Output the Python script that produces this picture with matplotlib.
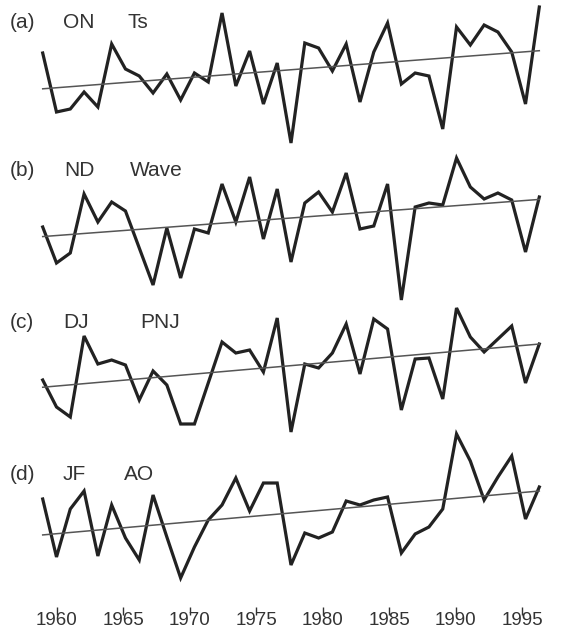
import numpy as np
import matplotlib
matplotlib.use("Agg")
import matplotlib.pyplot as plt

# years of the record
years = np.arange(1959, 1996)

# anomalies (arbitrary units)
on_ts = [2.7, -3.2, -2.9, -1.2, -2.7, 3.6, 1.1, 0.4, -1.3, 0.6, -2.0, 0.7, -0.2,
         6.7, -0.6, 2.9, -2.4, 1.7, -6.3, 3.7, 3.2, 0.9, 3.6, -2.2, 2.8, 5.7,
         -0.4, 0.7, 0.4, -4.9, 5.3, 3.5, 5.5, 4.8, 2.8, -2.4, 7.3]
nd_wave = [-0.7, -4.3, -3.3, 2.6, -0.2, 1.8, 0.9, -2.8, -6.5, -0.8, -5.8, -0.9,
           -1.3, 3.6, -0.2, 4.3, -1.9, 3.1, -4.2, 1.7, 2.8, 0.8, 4.7, -0.9, -0.6,
           3.6, -8.0, 1.3, 1.7, 1.5, 6.2, 3.3, 2.1, 2.7, 2.0, -3.2, 2.3]
dj_pnj = [-1.5, -4.2, -5.2, 2.9, 0.1, 0.5, 0.0, -3.5, -0.6, -2.0, -5.9, -5.9,
          -1.8, 2.3, 1.2, 1.5, -0.7, 4.7, -6.7, 0.1, -0.3, 1.2, 4.1, -0.9, 4.6,
          3.6, -4.5, 0.6, 0.7, -3.4, 5.7, 2.8, 1.3, 2.6, 3.9, -1.8, 2.1]
jf_ao = [1.6, -4.2, 0.6, 2.4, -4.1, 1.0, -2.3, -4.5, 2.0, -2.2, -6.3, -3.2, -0.5,
         1.0, 3.7, 0.4, 3.2, 3.2, -5.0, -1.8, -2.3, -1.7, 1.4, 1.0, 1.5, 1.8,
         -3.8, -1.9, -1.2, 0.6, 8.1, 5.4, 1.5, 3.8, 5.9, -0.4, 2.8]

panels = [("(a)", "ON", "Ts", on_ts),
          ("(b)", "ND", "Wave", nd_wave),
          ("(c)", "DJ", "PNJ", dj_pnj),
          ("(d)", "JF", "AO", jf_ao)]
tick_years = [1960, 1965, 1970, 1975, 1980, 1985, 1990, 1995]

W, H = 565, 638
fig = plt.figure(figsize=(W / 100, H / 100), dpi=100)

# pixel layout of each panel: zero line and label baseline / word positions
zero_px = [80, 220, 365, 515]
label_base = [28, 176, 328, 480]
word_x = [(10, 63, 128), (10, 64, 130), (10, 63, 140), (10, 63, 124)]
x0, x1 = 42.7, 539.3
txt_col = "#333333"

for i, (tag, season, name, vals) in enumerate(panels):
    top = zero_px[i] - 90
    ax = fig.add_axes([x0 / W, 1 - (top + 180) / H, (x1 - x0) / W, 180 / H])
    ax.set_xlim(1959, 1995)
    ax.set_ylim(-9, 9)
    ax.axis("off")
    ax.patch.set_alpha(0)
    ax.plot(years, vals, color="#222222", lw=2.3, solid_joinstyle="miter",
            clip_on=False)
    slope, icpt = np.polyfit(years, vals, 1)
    ax.plot(years, slope * years + icpt, color="#555555", lw=1.1, clip_on=False)

    yb = 1 - label_base[i] / H
    for word, xp in zip((tag, season, name), word_x[i]):
        fig.text(xp / W, yb, word, fontsize=15, color=txt_col, va="baseline",
                 ha="left", family=["Liberation Sans", "DejaVu Sans"])

# year axis at the bottom
tx0 = 1960 - (56.7 - x0) / 13.3
tx1 = 1960 + (x1 - 56.7) / 13.3
axt = fig.add_axes([x0 / W, 1 - 615 / H, (x1 - x0) / W, 0.02])
axt.set_xlim(tx0, tx1)
axt.set_ylim(0, 1)
axt.patch.set_alpha(0)
for s in axt.spines.values():
    s.set_visible(False)
axt.set_yticks([])
axt.set_xticks(tick_years)
axt.set_xticklabels([str(t) for t in tick_years])
axt.tick_params(axis="x", direction="in", length=6, width=1.0, colors=txt_col,
                pad=-2.0, labelsize=13.5)
for lab in axt.get_xticklabels():
    lab.set_family(["Liberation Sans", "DejaVu Sans"])

fig.savefig("out.png", dpi=100)
